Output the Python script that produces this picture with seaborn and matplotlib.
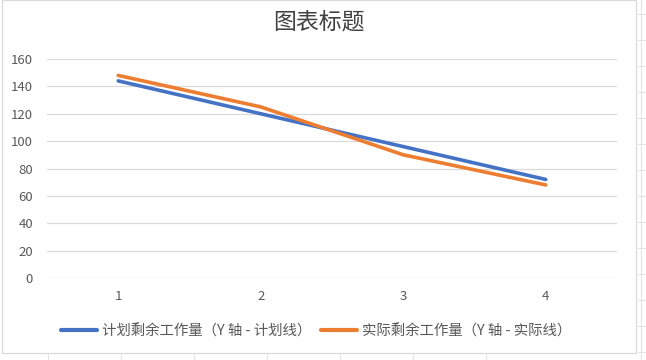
import matplotlib
matplotlib.use("Agg")
import matplotlib.pyplot as plt
import seaborn as sns
import pandas as pd
from matplotlib.patches import Rectangle

categories = [1, 2, 3, 4]
planned = [144, 120, 96, 72]
actual = [148, 125, 90, 68]
series_names = ["计划剩余工作量（Y 轴 - 计划线）", "实际剩余工作量（Y 轴 - 实际线）"]
yticks = [0, 20, 40, 60, 80, 100, 120, 140, 160]
title = "图表标题"

sns.set_theme(style="white")
plt.rcParams['font.family'] = ['Noto Sans CJK SC', 'DejaVu Sans']

df = pd.DataFrame({
    "x": categories * 2,
    "y": planned + actual,
    "series": [series_names[0]] * 4 + [series_names[1]] * 4,
})

fig = plt.figure(figsize=(6.46, 3.6), dpi=100)
W, H = 646, 360

# faint spreadsheet cell lines outside the chart area
for yy in range(14, 360, 26):
    fig.add_artist(plt.Line2D([638 / W, 1], [1 - yy / H] * 2, color="#E3E3E3", lw=0.8))
fig.add_artist(plt.Line2D([641 / W, 641 / W], [0, 1], color="#E3E3E3", lw=0.8))
for xx in [48, 121, 194, 267, 340, 413, 486]:
    fig.add_artist(plt.Line2D([xx / W] * 2, [0, 6 / H], color="#E3E3E3", lw=0.8))
# chart border
fig.add_artist(Rectangle((2 / W, 1 - 353 / H), 634 / W, 353 / H, fill=True,
                         facecolor="white", edgecolor="#D9D9D9", lw=0.9, zorder=0))

ax = fig.add_axes([47 / W, 1 - 278 / H, 570 / W, 219 / H])
ax.set_facecolor("none")
sns.lineplot(data=df, x="x", y="y", hue="series", palette=["#4472C4", "#ED7D31"],
             linewidth=2.6, ax=ax, legend=True)
ax.set_xlim(0.5, 4.5)
ax.set_ylim(0, 160)
ax.set_yticks(yticks)
ax.set_xticks(categories)
ax.set_xticklabels([str(c) for c in categories])
ax.grid(axis="y", color="#D9D9D9", lw=0.9)
ax.grid(axis="x", visible=False)
for s in ax.spines.values():
    s.set_visible(False)
ax.tick_params(axis="both", length=0, colors="#595959", labelsize=9.5)
ax.tick_params(axis="y", pad=10)
ax.tick_params(axis="x", pad=9)
ax.set_xlabel("")
ax.set_ylabel("")

handles, labels = ax.get_legend_handles_labels()
ax.get_legend().remove()
leg = fig.legend(handles, labels, loc="center", bbox_to_anchor=(316 / W, 1 - 331 / H),
                 bbox_transform=fig.transFigure, ncol=2, frameon=False, fontsize=10.4,
                 handlelength=2.5, columnspacing=0.65, handletextpad=0.35, borderpad=0,
                 borderaxespad=0)
for t in leg.get_texts():
    t.set_color("#595959")
for l in leg.get_lines():
    l.set_linewidth(3)

fig.text(319 / W, 1 - 22 / H, title, ha="center", va="center", fontsize=16.5,
         fontweight="medium", color="#404040")

fig.savefig("out.png", dpi=100)
